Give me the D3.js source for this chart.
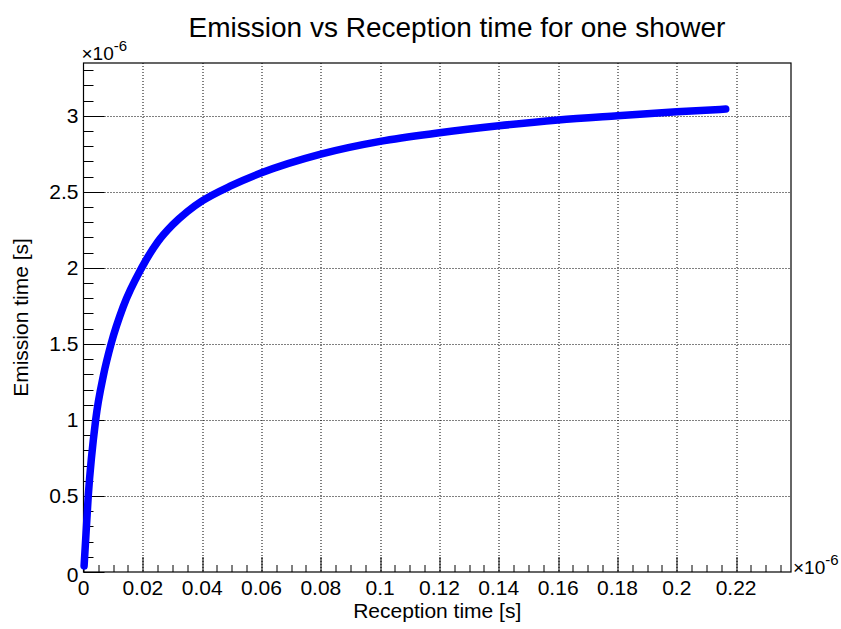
<!DOCTYPE html>
<html>
<head>
<meta charset="utf-8">
<script src="https://cdn.jsdelivr.net/npm/d3@7"></script>
<style>
  body { margin: 0; background: #fff; }
  svg text { font-family: "Liberation Sans", Arial, Helvetica, sans-serif; fill: #000; }
</style>
</head>
<body>
<div id="chart"></div>
<script>
// values in units of 1e-6 s
var receptionTime = [0.0002, 0.0016, 0.0041, 0.0068, 0.0093, 0.0134, 0.0196, 0.025, 0.03,  0.035, 0.04, 0.05,  0.06,  0.08,  0.1,   0.12,  0.14,  0.16,  0.18, 0.2,   0.2165];
var emissionTime  = [0.04,   0.5,    1.0,    1.3,    1.5,    1.745,  2.0,    2.17,  2.282, 2.37,  2.44, 2.542, 2.625, 2.748, 2.832, 2.888, 2.934, 2.972, 3.0,  3.026, 3.044];

var xTickValues = [0, 0.02, 0.04, 0.06, 0.08, 0.1, 0.12, 0.14, 0.16, 0.18, 0.2, 0.22];
var xTickLabels = ["0", "0.02", "0.04", "0.06", "0.08", "0.1", "0.12", "0.14", "0.16", "0.18", "0.2", "0.22"];
var yTickValues = [0, 0.5, 1, 1.5, 2, 2.5, 3];
var yTickLabels = ["0", "0.5", "1", "1.5", "2", "2.5", "3"];

var titleText = "Emission vs Reception time for one shower";
var xTitle = "Reception time [s]";
var yTitle = "Emission time [s]";

const width = 841;
const height = 629;

// frame edges
const padding = { top: 63, right: 50, bottom: 57, left: 83.5 };
const plotW = width - padding.left - padding.right;
const plotH = height - padding.top - padding.bottom;

var xScale = d3.scaleLinear().domain([0, 0.2385]).range([0, plotW]);
var yScale = d3.scaleLinear().domain([0, 3.347]).range([plotH, 0]);

var svg = d3.select("#chart").append("svg")
  .attr("width", width)
  .attr("height", height);

// title
svg.append("text")
  .attr("x", 457)
  .attr("y", 37)
  .attr("text-anchor", "middle")
  .style("font-size", "28px")
  .text(titleText);

var g = svg.append("g").attr("transform", "translate(" + padding.left + "," + padding.top + ")");

// grid
g.append("g").selectAll("line")
  .data(xTickValues.slice(1))
  .enter().append("line")
  .attr("x1", d => Math.round(xScale(d)) + 0.5)
  .attr("x2", d => Math.round(xScale(d)) + 0.5)
  .attr("y1", 0).attr("y2", plotH)
  .attr("stroke", "#000").attr("stroke-dasharray", "1,2");

g.append("g").selectAll("line")
  .data(yTickValues.slice(1))
  .enter().append("line")
  .attr("y1", d => Math.round(yScale(d)) + 0.5)
  .attr("y2", d => Math.round(yScale(d)) + 0.5)
  .attr("x1", 0).attr("x2", plotW)
  .attr("stroke", "#000").attr("stroke-dasharray", "1,2");

// x axis (ticks point up into the frame)
var xMinor = d3.range(0, 0.2386, 0.005);
g.append("g").selectAll("line")
  .data(xMinor)
  .enter().append("line")
  .attr("x1", d => Math.round(xScale(d)) + 0.5)
  .attr("x2", d => Math.round(xScale(d)) + 0.5)
  .attr("y1", plotH)
  .attr("y2", (d, i) => plotH - (i % 4 == 0 ? 15 : 7))
  .attr("stroke", "#000");

g.append("g").selectAll("text")
  .data(xTickValues)
  .enter().append("text")
  .attr("x", d => xScale(d))
  .attr("y", plotH + 23)
  .attr("text-anchor", "middle")
  .style("font-size", "21px")
  .text((d, i) => xTickLabels[i]);

// y axis (ticks point right into the frame)
var yMinor = d3.range(0, 3.34, 0.1);
g.append("g").selectAll("line")
  .data(yMinor)
  .enter().append("line")
  .attr("y1", d => Math.round(yScale(d)) + 0.5)
  .attr("y2", d => Math.round(yScale(d)) + 0.5)
  .attr("x1", 0)
  .attr("x2", (d, i) => (i % 5 == 0 ? 21 : 10))
  .attr("stroke", "#000");

g.append("g").selectAll("text")
  .data(yTickValues)
  .enter().append("text")
  .attr("x", -5)
  .attr("y", d => yScale(d) + (d == 0 ? 3 : 0))
  .attr("dy", "0.35em")
  .attr("text-anchor", "end")
  .style("font-size", "21px")
  .text((d, i) => yTickLabels[i]);

// frame
g.append("rect")
  .attr("x", 0).attr("y", 0)
  .attr("width", plotW).attr("height", plotH)
  .attr("fill", "none").attr("stroke", "#000").attr("stroke-width", 1.2);

// exponent labels
var ey = g.append("text").attr("x", -2).attr("y", -3).style("font-size", "19px");
ey.append("tspan").text("\u00d710");
ey.append("tspan").attr("dy", -9).style("font-size", "15px").text("-6");

var ex = g.append("text").attr("x", plotW + 2).attr("y", plotH + 2).style("font-size", "19px");
ex.append("tspan").text("\u00d710");
ex.append("tspan").attr("dy", -9).style("font-size", "15px").text("-6");

// axis titles
svg.append("text")
  .attr("x", padding.left + plotW / 2)
  .attr("y", 618)
  .attr("text-anchor", "middle")
  .style("font-size", "21px")
  .text(xTitle);

svg.append("text")
  .attr("transform", "translate(28," + (padding.top + plotH / 2) + ") rotate(-90)")
  .attr("text-anchor", "middle")
  .style("font-size", "21px")
  .text(yTitle);

// curve
var pts = receptionTime.map((d, i) => ({ x: d, y: emissionTime[i] }));
var line = d3.line()
  .x(d => xScale(d.x))
  .y(d => yScale(d.y))
  .curve(d3.curveMonotoneX);

g.append("path")
  .datum(pts)
  .attr("d", line)
  .attr("fill", "none")
  .attr("stroke", "#0000ff")
  .attr("stroke-width", 7.5)
  .attr("stroke-linecap", "round")
  .attr("stroke-linejoin", "round");
</script>
</body>
</html>
